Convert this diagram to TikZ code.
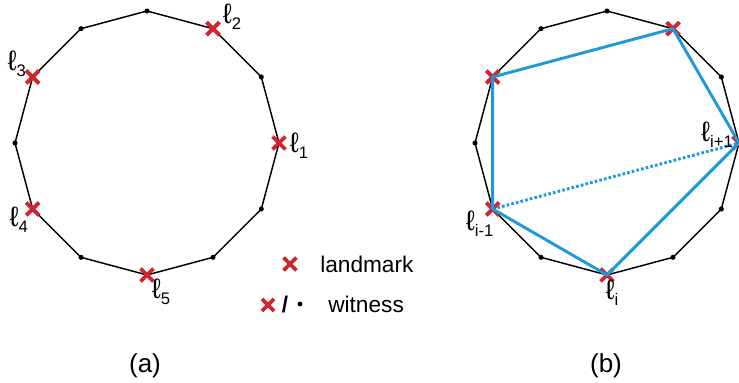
\documentclass[tikz,border=0pt]{standalone}
\usepackage{fontspec}
\setmainfont{Liberation Sans}
\usetikzlibrary{shapes.misc, positioning}

\definecolor{lmred}{RGB}{208,36,46}
\definecolor{hullblue}{RGB}{30,154,214}
\newcommand{\lsub}[1]{{\fontsize{21}{21}\selectfont ℓ}\raisebox{-0.3em}{\fontsize{12.5}{12.5}\selectfont #1}}

\begin{document}
\begin{tikzpicture}[x=0.75pt, y=0.75pt,
    poly/.style={draw, line width=1.1pt, line join=miter},
    lmark/.style={cross out, draw=lmred, line width=2.9pt,
                  minimum size=6.8pt, inner sep=0pt},
    wit/.style={circle, fill=black, minimum size=3.8pt, inner sep=0pt},
    lab/.style={font=\fontsize{16}{16}\selectfont, inner sep=0pt},
    key/.style={font=\fontsize{17}{17}\selectfont, inner sep=0pt},
    hull/.style={draw=hullblue, line width=2.2pt, line join=round},
    node distance=0pt
  ]
  \useasboundingbox (0,0) rectangle (739,382);

  % corners of the two dodecagons
  \foreach \p/\cx in {a/147, b/607}
    \foreach \i in {0,...,11}
      \coordinate (\p\i) at ([shift={(\cx,239)}]30*\i:132);

  \draw[poly] (a0) \foreach \i in {1,...,11}{ -- (a\i)} -- cycle;
  \draw[poly] (b0) \foreach \i in {1,...,11}{ -- (b\i)} -- cycle;

  % witnesses
  \foreach \p in {a, b}
    \foreach \i in {1,3,4,6,8,10,11}
      \node[wit] (w\p\i) at (\p\i) {};

  % landmarks
  \foreach \p in {a, b}
    \foreach \i in {0,2,5,7,9}
      \node[lmark] (l\p\i) at (\p\i) {};

  % hull in (b)
  \draw[hull] (lb5.center) -- (lb2.center) -- (lb0.center)
    -- (lb9.center) -- (lb7.center) -- cycle;
  \draw[hull, dash pattern=on 2pt off 1.6pt] (lb7.center) -- (lb0.center);

  % labels (a)
  \node[lab, shift={(20,-3)}]   (ta1) at (la0) {\lsub{1}};
  \node[lab, shift={(19,12)}]   (ta2) at (la2) {\lsub{2}};
  \node[lab, shift={(-16,13)}]  (ta3) at (la5) {\lsub{3}};
  \node[lab, shift={(-14,-11)}] (ta4) at (la7) {\lsub{4}};
  \node[lab, shift={(14,-17)}]  (ta5) at (la9) {\lsub{5}};

  % labels (b)
  \node[lab, shift={(-22,8)}]   (tb1) at (lb0) {\lsub{i+1}};
  \node[lab, shift={(-13,-15)}] (tb2) at (lb7) {\lsub{i-1}};
  \node[lab, shift={(5,-18)}]   (tb3) at (lb9) {\lsub{i}};

  % legend
  \node[lmark] (kl) at (290,118) {};
  \node[key, anchor=base west] (klt) at (320,109) {landmark};
  \node[lmark, minimum size=6.2pt] (kw) at (268,77) {};
  \node[key, font=\fontsize{17}{17}\selectfont\bfseries] (ks) at (285,77) {/};
  \node[wit, minimum size=3.6pt] (kd) at (300,78) {};
  \node[key, anchor=base west] (kwt) at (328,69) {witness};

  % captions
  \node[key, font=\fontsize{19.5}{19.5}\selectfont, anchor=base] (capa) at (145,10) {(a)};
  \node[key, font=\fontsize{19.5}{19.5}\selectfont, anchor=base] (capb) at (606,10) {(b)};
\end{tikzpicture}
\end{document}
